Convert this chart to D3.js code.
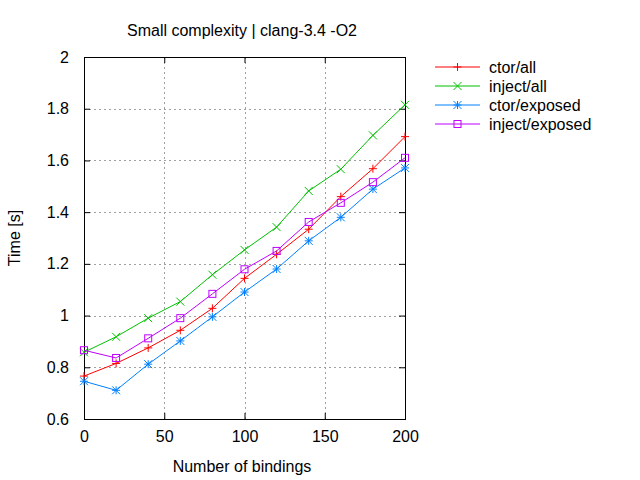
<!DOCTYPE html>
<html>
<head>
<meta charset="utf-8">
<script src="https://cdn.jsdelivr.net/npm/d3@7"></script>
<style>
  body { margin: 0; background: #fff; }
  svg text { font-family: "Liberation Sans", Arial, sans-serif; font-size: 16px; fill: #000; }
</style>
</head>
<body>
<div id="chart"></div>
<script>
const bindings = [0, 20, 40, 60, 80, 100, 120, 140, 160, 180, 200];
const ctorAll = [0.766, 0.815, 0.875, 0.943, 1.028, 1.144, 1.237, 1.334, 1.460, 1.568, 1.692];
const injectAll = [0.858, 0.918, 0.990, 1.054, 1.158, 1.254, 1.342, 1.482, 1.566, 1.697, 1.815];
const ctorExposed = [0.746, 0.711, 0.812, 0.902, 0.995, 1.091, 1.180, 1.289, 1.380, 1.489, 1.571];
const injectExposed = [0.866, 0.836, 0.912, 0.990, 1.084, 1.179, 1.250, 1.362, 1.436, 1.516, 1.610];
const seriesNames = ["ctor/all", "inject/all", "ctor/exposed", "inject/exposed"];
const xTicks = [0, 50, 100, 150, 200];
const yTicks = [0.6, 0.8, 1, 1.2, 1.4, 1.6, 1.8, 2];

const series = [
  { name: seriesNames[0], values: ctorAll, color: "#ff0000", mark: "plus" },
  { name: seriesNames[1], values: injectAll, color: "#00c000", mark: "cross" },
  { name: seriesNames[2], values: ctorExposed, color: "#0080ff", mark: "star" },
  { name: seriesNames[3], values: injectExposed, color: "#c000ff", mark: "square" }
];

const margin = { top: 57, right: 235, bottom: 61, left: 84 },
  width = 640 - margin.left - margin.right,
  height = 480 - margin.top - margin.bottom;

const svg = d3
  .select("#chart")
  .append("svg")
  .attr("width", 640)
  .attr("height", 480);

const g = svg
  .append("g")
  .attr("transform", "translate(" + margin.left + "," + margin.top + ")");

const xScale = d3.scaleLinear().domain([0, 200]).range([0, width]);
const yScale = d3.scaleLinear().domain([0.6, 2]).range([height, 0]);

// grid
g.append("g")
  .selectAll("line")
  .data(xTicks.slice(1, -1))
  .enter()
  .append("line")
  .attr("x1", (d) => Math.round(xScale(d)) + 0.5)
  .attr("x2", (d) => Math.round(xScale(d)) + 0.5)
  .attr("y1", 0)
  .attr("y2", height)
  .attr("stroke", "#a0a0a0")
  .attr("stroke-dasharray", "2,3");
g.append("g")
  .selectAll("line")
  .data(yTicks.slice(1, -1))
  .enter()
  .append("line")
  .attr("y1", (d) => Math.round(yScale(d)) + 0.5)
  .attr("y2", (d) => Math.round(yScale(d)) + 0.5)
  .attr("x1", 0)
  .attr("x2", width)
  .attr("stroke", "#a0a0a0")
  .attr("stroke-dasharray", "2,3");

// axes, ticks inward and mirrored
g.append("g")
  .attr("transform", "translate(0," + height + ")")
  .call(d3.axisBottom(xScale).tickValues(xTicks).tickSize(-6).tickPadding(12).tickFormat(d3.format("d")));
g.append("g")
  .call(d3.axisLeft(yScale).tickValues(yTicks).tickSize(-6).tickPadding(15).tickFormat((d) => String(+d.toFixed(1))));
g.append("g").call(d3.axisTop(xScale).tickValues(xTicks).tickSize(-6).tickFormat(""));
g.append("g")
  .attr("transform", "translate(" + width + ",0)")
  .call(d3.axisRight(yScale).tickValues(yTicks).tickSize(-6).tickFormat(""));

g.selectAll(".domain").remove();
g.selectAll(".tick line").attr("stroke", "#000");
g.selectAll(".tick text").style("font-size", "16px").style("font-family", "Liberation Sans, Arial, sans-serif");

g.append("rect")
  .attr("x", 0.5)
  .attr("y", 0.5)
  .attr("width", width)
  .attr("height", height)
  .attr("fill", "none")
  .attr("stroke", "#000");

// markers
function drawMark(sel, type, color) {
  const s = 4;
  if (type === "plus" || type === "star") {
    sel.append("line").attr("x1", -s).attr("x2", s).attr("y1", 0).attr("y2", 0).attr("stroke", color);
    sel.append("line").attr("x1", 0).attr("x2", 0).attr("y1", -s).attr("y2", s).attr("stroke", color);
  }
  if (type === "cross" || type === "star") {
    sel.append("line").attr("x1", -s).attr("x2", s).attr("y1", -s).attr("y2", s).attr("stroke", color);
    sel.append("line").attr("x1", -s).attr("x2", s).attr("y1", s).attr("y2", -s).attr("stroke", color);
  }
  if (type === "square") {
    sel.append("rect").attr("x", -3.5).attr("y", -3.5).attr("width", 7).attr("height", 7)
      .attr("fill", "none").attr("stroke", color);
  }
}

const line = d3
  .line()
  .x((d, i) => xScale(bindings[i]))
  .y((d) => yScale(d));

series.forEach(function (s) {
  g.append("path")
    .datum(s.values)
    .attr("d", line)
    .attr("fill", "none")
    .attr("stroke", s.color)
    .attr("stroke-width", 1);
  g.selectAll(null)
    .data(s.values)
    .enter()
    .append("g")
    .attr("transform", (d, i) => "translate(" + xScale(bindings[i]) + "," + yScale(d) + ")")
    .each(function () {
      drawMark(d3.select(this), s.mark, s.color);
    });
});

// legend
const legend = svg.append("g").attr("transform", "translate(435,67)");
series.forEach(function (s, i) {
  const row = legend.append("g").attr("transform", "translate(0," + i * 19 + ")");
  row.append("line").attr("x1", 0).attr("x2", 45).attr("y1", 0).attr("y2", 0).attr("stroke", s.color);
  drawMark(row.append("g").attr("transform", "translate(22.5,0)"), s.mark, s.color);
  row.append("text").attr("x", 54).attr("y", 0).attr("dy", "0.35em").text(s.name);
});

// titles
svg.append("text")
  .attr("x", 242)
  .attr("y", 30)
  .attr("dy", "0.35em")
  .attr("text-anchor", "middle")
  .text("Small complexity | clang-3.4 -O2");
svg.append("text")
  .attr("x", 242)
  .attr("y", 466)
  .attr("dy", "0.35em")
  .attr("text-anchor", "middle")
  .text("Number of bindings");
svg.append("text")
  .attr("transform", "translate(14,238) rotate(-90)")
  .attr("dy", "0.35em")
  .attr("text-anchor", "middle")
  .text("Time [s]");
</script>
</body>
</html>
